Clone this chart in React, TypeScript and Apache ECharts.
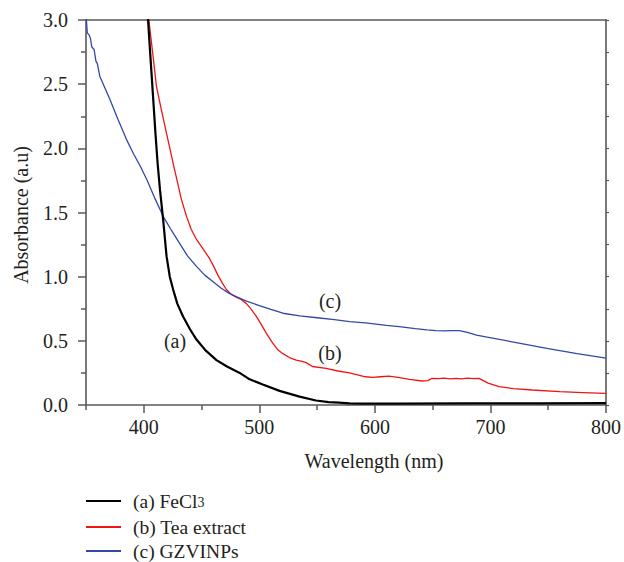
import React, { useEffect, useRef } from "react";
import * as echarts from "echarts";

// ---- Data ----
const feclX = [401, 403.7, 406, 408.2, 410, 412, 414, 416.8, 419.7, 422.5, 425.4, 429, 434, 440, 445.6, 453, 462.9, 472, 483, 491.6, 503, 517.5, 534.8, 549, 560, 569, 578, 590, 620, 680, 740, 800];
const feclY = [3.4, 3.0, 2.68, 2.38, 2.13, 1.88, 1.68, 1.44, 1.16, 1.0, 0.9, 0.79, 0.69, 0.59, 0.51, 0.43, 0.35, 0.3, 0.25, 0.2, 0.16, 0.11, 0.065, 0.035, 0.022, 0.018, 0.012, 0.01, 0.01, 0.012, 0.012, 0.015];

const teaX = [402, 404.4, 408, 411, 415, 419.6, 426, 432.6, 437, 441, 445.6, 451, 457, 460.5, 464.2, 468, 471.5, 476, 480, 484.5, 488.8, 493, 497.4, 501.5, 506, 511, 516, 520.4, 526, 531.9, 537, 540.5, 546, 557.8, 568, 578, 591.8, 598, 605, 612, 620, 630, 641, 646, 649, 655, 660, 665, 670, 675, 680, 685, 690, 698, 707.5, 720, 736, 760, 780, 800];
const teaY = [3.25, 3.0, 2.72, 2.48, 2.31, 2.12, 1.86, 1.6, 1.47, 1.37, 1.29, 1.22, 1.14, 1.08, 1.01, 0.95, 0.9, 0.86, 0.84, 0.82, 0.79, 0.745, 0.69, 0.63, 0.56, 0.49, 0.43, 0.4, 0.37, 0.35, 0.34, 0.33, 0.3, 0.285, 0.265, 0.25, 0.22, 0.215, 0.22, 0.225, 0.215, 0.2, 0.187, 0.19, 0.207, 0.205, 0.21, 0.203, 0.208, 0.204, 0.209, 0.205, 0.207, 0.17, 0.143, 0.128, 0.117, 0.105, 0.097, 0.09];

const gzviX = [350, 351.1, 352.9, 354, 355, 357, 358.6, 359.8, 362, 366.4, 370.7, 377.9, 385, 391, 397, 403, 409.6, 416.8, 424, 431, 438, 445.6, 453, 460, 467, 474, 481, 488.8, 500, 510, 520.4, 535, 550, 565, 578, 592, 610, 621, 635, 645, 653, 660, 667, 673, 680, 688, 696, 720, 750, 775, 800];
const gzviY = [3.05, 2.9, 2.88, 2.85, 2.79, 2.77, 2.68, 2.66, 2.56, 2.47, 2.38, 2.22, 2.07, 1.96, 1.86, 1.75, 1.61, 1.47, 1.36, 1.26, 1.16, 1.08, 1.01, 0.96, 0.91, 0.87, 0.84, 0.81, 0.775, 0.745, 0.715, 0.695, 0.68, 0.665, 0.65, 0.64, 0.62, 0.61, 0.595, 0.585, 0.58, 0.578, 0.58, 0.58, 0.565, 0.545, 0.53, 0.49, 0.44, 0.4, 0.365];

const seriesNames = ["a", "b", "c"];
const seriesColors = ["#000000", "#f01414", "#3348a6"];
const legendLabels = ["(a) FeCl", "(b) Tea extract", "(c) GZVINPs"];
const legendSubscripts = ["3", "", ""];
const curveLabels = ["(a)", "(b)", "(c)"];
const majorWavelengthTicks = [400, 500, 600, 700, 800];
const minorWavelengthTicks = [350, 450, 550, 650, 750];
const xAxisTitle = "Wavelength (nm)";
const yAxisTitle = "Absorbance (a.u)";

const FONT = "Liberation Serif, Times New Roman, serif";
const TEXT = "#231f20";
const AXIS = "#595959";
const legendTops = [491, 517, 541];

const zip = (xs: number[], ys: number[]) => xs.map((x, i) => [x, ys[i]]);

export default function App() {
  const ref = useRef<HTMLDivElement>(null);
  useEffect(() => {
    if (!ref.current) return;
    const chart = echarts.init(ref.current, null, { renderer: "svg" });
    const axisLine = { show: true, lineStyle: { color: AXIS, width: 1.6 } };
    const txt = (text: string, x: number, y: number, rotation = 0) => ({
      type: "text",
      x,
      y,
      rotation,
      style: { text, font: `20px ${FONT}`, fill: TEXT, textAlign: "center", textVerticalAlign: "middle" },
    });
    const legends = seriesNames.map((name, i) => ({
      orient: "vertical",
      left: 86,
      top: legendTops[i],
      padding: 0,
      itemWidth: 35,
      itemHeight: 2,
      icon: "rect",
      data: [name],
      formatter: () => {
        const sub = legendSubscripts[i] ? `{s|${legendSubscripts[i]}}` : "";
        return `{t|${legendLabels[i]}}${sub}`;
      },
      textStyle: {
        padding: [0, 0, 0, 7],
        fontFamily: FONT,
        rich: {
          t: { fontFamily: FONT, fontSize: 19.5, color: TEXT, lineHeight: 16 },
          s: { fontFamily: FONT, fontSize: 14, color: TEXT, lineHeight: 4, verticalAlign: "bottom" },
        },
      },
    }));
    const option: any = {
      animation: false,
      backgroundColor: "#ffffff",
      textStyle: { fontFamily: FONT },
      grid: { left: 86, right: 17, top: 20, bottom: 157, containLabel: false },
      xAxis: [
        {
          type: "value",
          min: 350,
          max: 800,
          position: "bottom",
          axisLine,
          axisTick: { show: true, customValues: majorWavelengthTicks, length: 8, lineStyle: { color: AXIS, width: 1.5 } },
          axisLabel: { customValues: majorWavelengthTicks, fontFamily: FONT, fontSize: 20, color: TEXT, margin: 12 },
          splitLine: { show: false },
        },
        {
          type: "value",
          min: 350,
          max: 800,
          position: "bottom",
          axisLine: { show: false },
          axisTick: { show: true, customValues: minorWavelengthTicks, length: 5, lineStyle: { color: AXIS, width: 1.5 } },
          axisLabel: { show: false },
          splitLine: { show: false },
        },
        {
          type: "value",
          min: 350,
          max: 800,
          position: "top",
          axisLine,
          axisTick: { show: false },
          axisLabel: { show: false },
          splitLine: { show: false },
        },
      ],
      yAxis: [
        {
          type: "value",
          min: 0,
          max: 3,
          interval: 0.5,
          position: "left",
          axisLine,
          axisTick: { show: true, length: 8, lineStyle: { color: AXIS, width: 1.5 } },
          minorTick: { show: true, splitNumber: 2, length: 5, lineStyle: { color: AXIS, width: 1.5 } },
          axisLabel: { fontFamily: FONT, fontSize: 20, color: TEXT, margin: 18, formatter: (v: number) => v.toFixed(1) },
          splitLine: { show: false },
        },
        {
          type: "value",
          min: 0,
          max: 3,
          interval: 0.25,
          position: "right",
          axisLine,
          axisTick: { show: true, length: 3, lineStyle: { color: AXIS, width: 1.2 } },
          axisLabel: { show: false },
          splitLine: { show: false },
        },
      ],
      legend: legends,
      graphic: [
        txt(xAxisTitle, 374, 461),
        txt(yAxisTitle, 21, 215, Math.PI / 2),
        txt(curveLabels[0], 175, 341),
        txt(curveLabels[1], 330, 353),
        txt(curveLabels[2], 330, 301),
      ],
      series: [
        { name: seriesNames[0], type: "line", data: zip(feclX, feclY), showSymbol: false, color: seriesColors[0], lineStyle: { color: seriesColors[0], width: 2.2 }, z: 3 },
        { name: seriesNames[1], type: "line", data: zip(teaX, teaY), showSymbol: false, color: seriesColors[1], lineStyle: { color: seriesColors[1], width: 1.3 }, z: 2 },
        { name: seriesNames[2], type: "line", data: zip(gzviX, gzviY), showSymbol: false, color: seriesColors[2], lineStyle: { color: seriesColors[2], width: 1.3 }, z: 2 },
      ],
    };
    chart.setOption(option);
    return () => chart.dispose();
  }, []);
  return <div ref={ref} style={{ position: "fixed", left: 0, top: 0, width: 624, height: 562 }} />;
}
